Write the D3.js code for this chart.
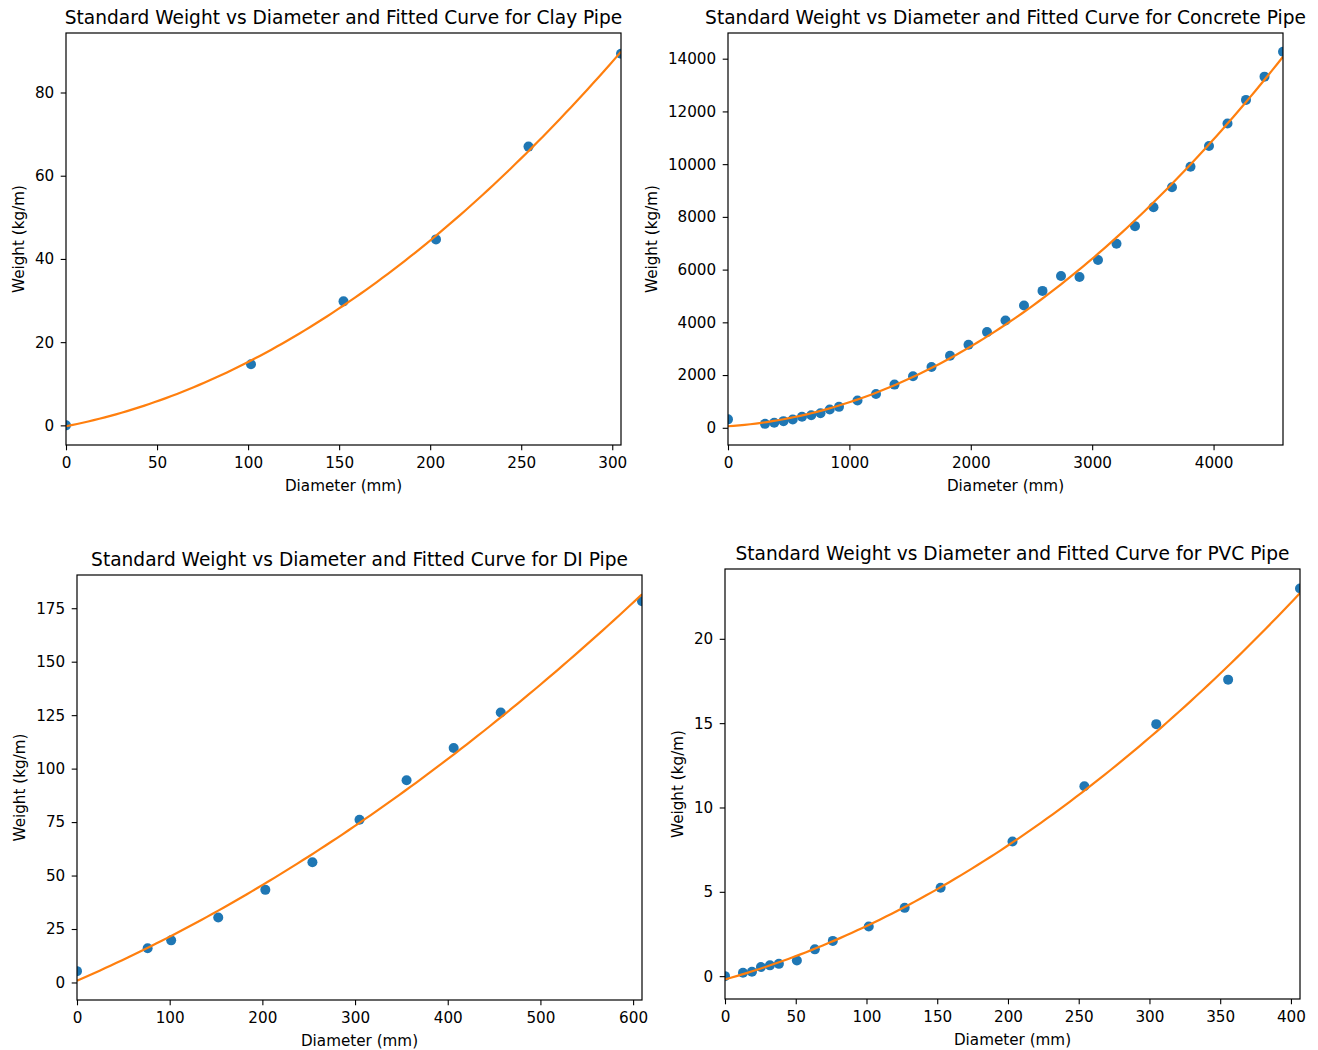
<!DOCTYPE html>
<html>
<head>
<meta charset="utf-8">
<script src="https://cdn.jsdelivr.net/npm/d3@7"></script>
<style>
  body { margin: 0; background: #fff; }
  text { font-family: "DejaVu Sans", sans-serif; fill: #000; }
</style>
</head>
<body>
<svg width="1318" height="1050"></svg>
<script>
// clay pipe
var clayDiameter = [0, 101.6, 152.4, 203.2, 254, 304.8];
var clayWeight   = [0, 14.7, 29.8, 44.7, 67.0, 89.3];
var clayXTicks = [0, 50, 100, 150, 200, 250, 300];
var clayYTicks = [0, 20, 40, 60, 80];

// concrete pipe
var concreteDiameter = [0, 304.8, 381, 457.2, 533.4, 609.6, 685.8, 762, 838.2, 914.4,
  1066.8, 1219.2, 1371.6, 1524, 1676.4, 1828.8, 1981.2, 2133.6, 2286, 2438.4, 2590.8,
  2743.2, 2895.6, 3048, 3200.4, 3352.8, 3505.2, 3657.6, 3810, 3962.4, 4114.8, 4267.2,
  4419.6, 4572];
var concreteWeight = [320, 150, 190, 252, 315, 416, 479, 554, 693, 794,
  1033, 1285, 1638, 1953, 2306, 2734, 3150, 3629, 4070, 4637, 5192,
  5759, 5721, 6363, 6981, 7649, 8367, 9123, 9904, 10685, 11542, 12437,
  13319, 14264];
var concreteXTicks = [0, 1000, 2000, 3000, 4000];
var concreteYTicks = [0, 2000, 4000, 6000, 8000, 10000, 12000, 14000];

// ductile iron pipe
var diDiameter = [0, 76.2, 101.6, 152.4, 203.2, 254, 304.8, 355.6, 406.4, 457.2, 609.6];
var diWeight   = [5.3, 16.0, 19.7, 30.4, 43.3, 56.2, 76.1, 94.6, 109.6, 126.2, 178.3];
var diXTicks = [0, 100, 200, 300, 400, 500, 600];
var diYTicks = [0, 25, 50, 75, 100, 125, 150, 175];

// pvc pipe
var pvcDiameter = [0, 12.7, 19.05, 25.4, 31.75, 38.1, 50.8, 63.5, 76.2, 101.6, 127, 152.4,
  203.2, 254, 304.8, 355.6, 406.4];
var pvcWeight   = [0, 0.2, 0.26, 0.54, 0.64, 0.73, 0.93, 1.59, 2.09, 2.94, 4.05, 5.24,
  7.98, 11.26, 14.94, 17.58, 22.98];
var pvcXTicks = [0, 50, 100, 150, 200, 250, 300, 350, 400];
var pvcYTicks = [0, 5, 10, 15, 20];

var panels = [
  {name: "Clay", xs: clayDiameter, ys: clayWeight, xt: clayXTicks, yt: clayYTicks,
   left: 66, top: 33, right: 621, bottom: 445},
  {name: "Concrete", xs: concreteDiameter, ys: concreteWeight, xt: concreteXTicks, yt: concreteYTicks,
   left: 728, top: 33, right: 1283, bottom: 445},
  {name: "DI", xs: diDiameter, ys: diWeight, xt: diXTicks, yt: diYTicks,
   left: 77, top: 575, right: 642, bottom: 1000},
  {name: "PVC", xs: pvcDiameter, ys: pvcWeight, xt: pvcXTicks, yt: pvcYTicks,
   left: 725, top: 569, right: 1300, bottom: 999}
];

var blue = "#1f77b4", orange = "#ff7f0e";
var tickLen = 5.3, tickPad = 6.5;

// least squares quadratic, like np.polyfit(x, y, 2)
function polyfit2(xs, ys) {
  var s = [0, 0, 0, 0, 0], t = [0, 0, 0];
  xs.forEach(function(x, i) {
    for (var k = 0; k < 5; k++) s[k] += Math.pow(x, k);
    for (var k = 0; k < 3; k++) t[k] += ys[i] * Math.pow(x, k);
  });
  var m = [[s[0], s[1], s[2], t[0]], [s[1], s[2], s[3], t[1]], [s[2], s[3], s[4], t[2]]];
  for (var c = 0; c < 3; c++) {
    for (var r = c + 1; r < 3; r++) {
      var f = m[r][c] / m[c][c];
      for (var k = c; k < 4; k++) m[r][k] -= f * m[c][k];
    }
  }
  var b = [0, 0, 0];
  for (var r = 2; r >= 0; r--) {
    var v = m[r][3];
    for (var k = r + 1; k < 3; k++) v -= m[r][k] * b[k];
    b[r] = v / m[r][r];
  }
  return function(x) { return b[0] + b[1] * x + b[2] * x * x; };
}

var svg = d3.select("svg");

panels.forEach(function(p, idx) {
  var w = p.right - p.left, h = p.bottom - p.top;
  var fit = polyfit2(p.xs, p.ys);
  var xmax = d3.max(p.xs);
  var curve = d3.range(0, 101).map(function(i) {
    var x = xmax * i / 100;
    return [x, fit(x)];
  });

  var allY = p.ys.concat(curve.map(function(d) { return d[1]; }));
  var lo = d3.min(allY), hi = d3.max(allY), pad = (hi - lo) * 0.05;

  var x = d3.scaleLinear().domain([0, xmax]).range([0, w]);
  var y = d3.scaleLinear().domain([lo - pad, hi + pad]).range([h, 0]);

  var g = svg.append("g").attr("transform", "translate(" + p.left + "," + p.top + ")");

  g.append("clipPath").attr("id", "clip" + idx)
    .append("rect").attr("width", w).attr("height", h);

  var plot = g.append("g").attr("clip-path", "url(#clip" + idx + ")");

  plot.selectAll("circle")
    .data(p.xs)
    .enter().append("circle")
      .attr("cx", function(d) { return x(d); })
      .attr("cy", function(d, i) { return y(p.ys[i]); })
      .attr("r", 5)
      .style("fill", blue);

  plot.append("path")
    .datum(curve)
    .attr("fill", "none")
    .attr("stroke", orange)
    .attr("stroke-width", 2.2)
    .attr("d", d3.line().x(function(d) { return x(d[0]); }).y(function(d) { return y(d[1]); }));

  var xAxis = g.append("g").attr("transform", "translate(0," + h + ")")
    .call(d3.axisBottom(x).tickValues(p.xt).tickFormat(d3.format("d")).tickSize(tickLen).tickPadding(tickPad));
  var yAxis = g.append("g")
    .call(d3.axisLeft(y).tickValues(p.yt).tickFormat(d3.format("d")).tickSize(tickLen).tickPadding(tickPad));

  [xAxis, yAxis].forEach(function(a) {
    a.select(".domain").remove();
    a.selectAll("line").attr("stroke", "#000").attr("stroke-width", 1.1);
    a.selectAll("text").style("font-size", "15.2px").attr("fill", "#000")
      .style("font-family", "DejaVu Sans, sans-serif");
  });

  g.append("rect")
    .attr("width", w).attr("height", h)
    .attr("fill", "none").attr("stroke", "#000").attr("stroke-width", 1.2);

  g.append("text")
    .attr("x", w / 2).attr("y", -9)
    .attr("text-anchor", "middle")
    .style("font-size", "18.6px")
    .text("Standard Weight vs Diameter and Fitted Curve for " + p.name + " Pipe");

  g.append("text")
    .attr("x", w / 2).attr("y", h + 46)
    .attr("text-anchor", "middle")
    .style("font-size", "15.2px")
    .text("Diameter (mm)");

  var tw = d3.max(yAxis.selectAll("text").nodes(), function(n) { return n.getBBox().width; });
  var lx = -(tickLen + tickPad + tw + 11);
  g.append("text")
    .attr("transform", "translate(" + lx + "," + (h / 2) + ") rotate(-90)")
    .attr("text-anchor", "middle")
    .style("font-size", "15.2px")
    .text("Weight (kg/m)");
});
</script>
</body>
</html>
